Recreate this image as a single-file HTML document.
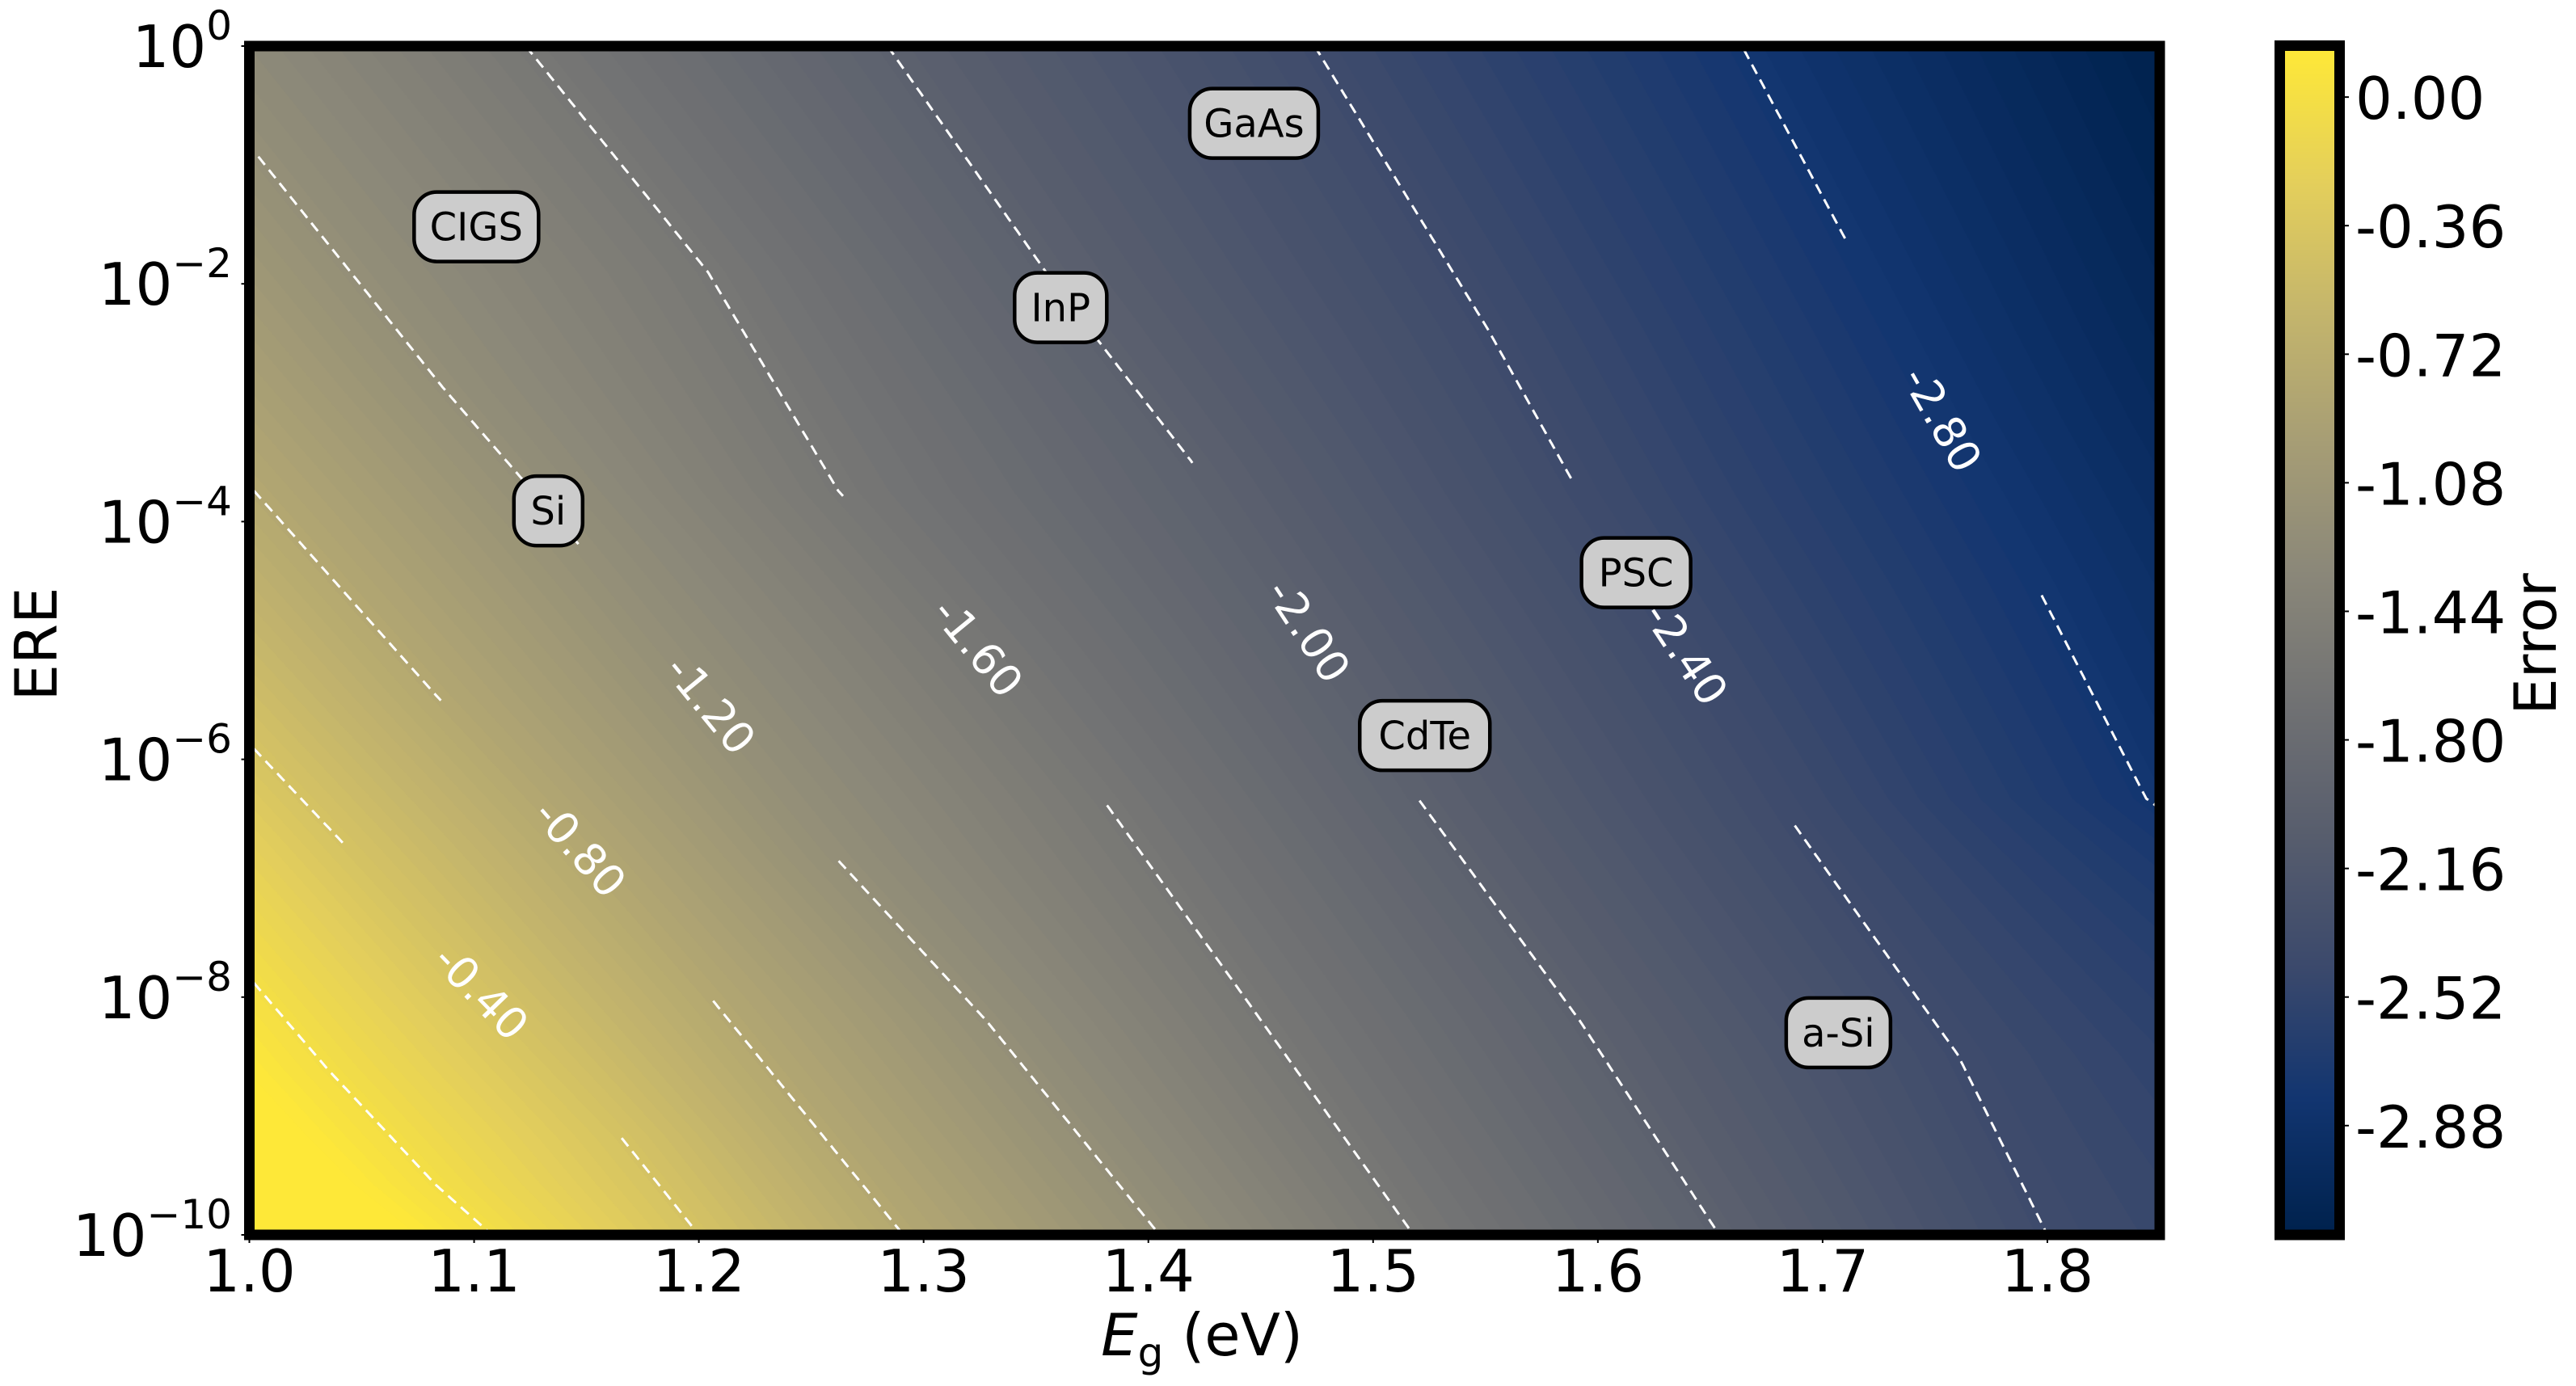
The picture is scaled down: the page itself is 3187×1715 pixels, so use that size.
<!DOCTYPE html>
<html><head><meta charset="utf-8">
<style>
html,body{margin:0;padding:0;background:#fff;}
#wrap{position:relative;width:3187px;height:1715px;overflow:hidden;font-family:"DejaVu Sans","Liberation Sans",sans-serif;}
canvas{position:absolute;}
svg{position:absolute;left:0;top:0;}
</style></head>
<body>
<div id="wrap">
<canvas id="field"></canvas>
<canvas id="cbar"></canvas>
<svg id="svg" width="3187" height="1715" xmlns="http://www.w3.org/2000/svg"></svg>
</div>
<script>
// ---- data ----
const levels = [0.0, -0.4, -0.8, -1.2, -1.6, -2.0, -2.4, -2.8];
const levelNames = ["", "-0.40", "-0.80", "-1.20", "-1.60", "-2.00", "-2.40", "-2.80"];
// contour polylines: [Eg (eV), log10(ERE)]
const contour0 = [[1.002,-7.88],[1.035,-8.61],[1.083,-9.58],[1.108,-10]];
const contour040 = [[1.002,-5.91],[1.039,-6.65],[1.103,-7.96],[1.165,-9.17],[1.2,-10]];
const contour080 = [[1.002,-3.74],[1.083,-5.46],[1.147,-6.75],[1.205,-8.0],[1.291,-10]];
const contour120 = [[1.004,-0.93],[1.086,-2.87],[1.146,-4.18],[1.205,-5.54],[1.260,-6.81],[1.328,-8.2],[1.405,-10]];
const contour160 = [[1.123,0],[1.204,-1.9],[1.262,-3.74],[1.324,-5.06],[1.381,-6.37],[1.445,-8.06],[1.518,-10]];
const contour200 = [[1.284,0],[1.357,-1.97],[1.419,-3.49],[1.471,-4.92],[1.520,-6.33],[1.592,-8.2],[1.654,-10]];
const contour240 = [[1.474,0],[1.551,-2.38],[1.592,-3.77],[1.639,-5.11],[1.687,-6.54],[1.760,-8.48],[1.800,-10]];
const contour280 = [[1.665,-0.03],[1.712,-1.69],[1.753,-3.14],[1.795,-4.53],[1.844,-6.33],[1.86,-6.55]];
const contours = [contour0, contour040, contour080, contour120, contour160, contour200, contour240, contour280];
// label anchor points on each contour (null = no label)
const labelPts = [null,[1.103,-7.96],[1.147,-6.75],[1.205,-5.54],[1.324,-5.06],[1.471,-4.92],[1.639,-5.11],[1.753,-3.14]];
const xTicks = [1.0,1.1,1.2,1.3,1.4,1.5,1.6,1.7,1.8];
const xTickLabels = ["1.0","1.1","1.2","1.3","1.4","1.5","1.6","1.7","1.8"];
const yTicks = [0,-2,-4,-6,-8,-10];
const yTickExp = ["0","\u22122","\u22124","\u22126","\u22128","\u221210"];
const cbTicks = [0.0,-0.36,-0.72,-1.08,-1.44,-1.80,-2.16,-2.52,-2.88];
const cbTickLabels = ["0.00","-0.36","-0.72","-1.08","-1.44","-1.80","-2.16","-2.52","-2.88"];
const materials = ["GaAs","CIGS","InP","Si","PSC","CdTe","a-Si"];
const materialEg = [1.447,1.101,1.361,1.133,1.617,1.523,1.707];
const materialLogERE = [-0.65,-1.52,-2.20,-3.91,-4.43,-5.80,-8.30];
const materialW = [159,154,114,85,135,161,129];
const vmin = -3.186, vmax = 0.144;

// ---- axes ----
const AX0=308.5, AX1=2672, AY0=57, AY1=1528;
const EGMIN=1.0, EGMAX=1.85, LMIN=-10, LMAX=0;
function X(e){return AX0+(e-EGMIN)/(EGMAX-EGMIN)*(AX1-AX0);}
function Y(l){return AY0+(LMAX-l)/(LMAX-LMIN)*(AY1-AY0);}
function Xinv(px){return EGMIN+(px-AX0)/(AX1-AX0)*(EGMAX-EGMIN);}
function Yinv(py){return LMAX-(py-AY0)/(AY1-AY0)*(LMAX-LMIN);}
const CB0=56.5, CB1=1528;
function CY(v){return CB1-(v-vmin)/(vmax-vmin)*(CB1-CB0);}

const cmapHex=['#00224e','#123570','#3b496c','#575d6d','#707173','#8a8779','#a69d75','#c4b56c','#e4cf5b','#fee838'];
const cmap=cmapHex.map(h=>[parseInt(h.slice(1,3),16),parseInt(h.slice(3,5),16),parseInt(h.slice(5,7),16)]);
function color(t){t=Math.max(0,Math.min(1,t));const f=t*(cmap.length-1);const i=Math.min(cmap.length-2,Math.floor(f));const r=f-i;
 return [0,1,2].map(k=>cmap[i][k]+(cmap[i+1][k]-cmap[i][k])*r);}

function contourX(poly,l){
  const pts=poly.slice().sort((a,b)=>b[1]-a[1]);
  let i=0;
  if(l>=pts[0][1]) i=0; else if(l<=pts[pts.length-1][1]) i=pts.length-2;
  else {for(i=0;i<pts.length-1;i++){if(l<=pts[i][1]&&l>=pts[i+1][1])break;}}
  const a=pts[i],b=pts[i+1];const t=(l-a[1])/(b[1]-a[1]);
  return X(a[0]+(b[0]-a[0])*t);
}

// ---- heatmap ----
(function(){
  const c=document.getElementById('field');
  const L=315,T=63,W=2666-315,H=1522-63;
  c.width=W;c.height=H;c.style.left=L+'px';c.style.top=T+'px';
  const ctx=c.getContext('2d');const img=ctx.createImageData(W,H);const d=img.data;
  for(let r=0;r<H;r++){
    const l=Yinv(T+r+0.5);
    const xs=contours.map(p=>contourX(p,l));
    for(let q=0;q<W;q++){
      const px=L+q+0.5;let v;
      const n=xs.length;
      if(px<=xs[0]) v=levels[0]+(px-xs[0])*(levels[1]-levels[0])/(xs[1]-xs[0]);
      else if(px>=xs[n-1]) v=levels[n-1]+(px-xs[n-1])*(levels[n-1]-levels[n-2])/(xs[n-1]-xs[n-2]);
      else{let k=0;while(k<n-2&&px>xs[k+1])k++;v=levels[k]+(px-xs[k])*(levels[k+1]-levels[k])/(xs[k+1]-xs[k]);}
      const step=(vmax-vmin)/100;v=Math.floor((v-vmin)/step)*step+vmin+step/2;
      const col=color((v-vmin)/(vmax-vmin));const o=(r*W+q)*4;
      d[o]=col[0];d[o+1]=col[1];d[o+2]=col[2];d[o+3]=255;
    }
  }
  ctx.putImageData(img,0,0);
})();
// ---- colorbar gradient ----
(function(){
  const c=document.getElementById('cbar');
  const L=2827,T=63,W=2888-2827,H=1522-63;
  c.width=W;c.height=H;c.style.left=L+'px';c.style.top=T+'px';
  const ctx=c.getContext('2d');
  for(let r=0;r<H;r++){const v=vmax-(r+0.5)/H*(vmax-vmin);const col=color((v-vmin)/(vmax-vmin));
    ctx.fillStyle='rgb('+col.map(Math.round).join(',')+')';ctx.fillRect(0,r,W,1);}
})();

// ---- SVG overlay ----
const NS='http://www.w3.org/2000/svg';
const svg=document.getElementById('svg');
function el(tag,attrs,parent){const e=document.createElementNS(NS,tag);for(const k in attrs)e.setAttribute(k,attrs[k]);(parent||svg).appendChild(e);return e;}

const clip=el('clipPath',{id:'plotclip'});
el('rect',{x:315,y:63,width:2351,height:1459},clip);
const cg=el('g',{'clip-path':'url(#plotclip)'});



contours.forEach((poly,i)=>{
  const pts=poly.map(p=>[X(p[0]),Y(p[1])]);
  const lp=labelPts[i]?[X(labelPts[i][0]),Y(labelPts[i][1])]:null;
  const R=250;
  let seg=[];const segs=[];
  for(let s=0;s<pts.length-1;s++){
    const a=pts[s],b=pts[s+1];const len=Math.hypot(b[0]-a[0],b[1]-a[1]);const n=Math.max(1,Math.ceil(len/3));
    for(let j=0;j<=n;j++){const x=a[0]+(b[0]-a[0])*j/n,y=a[1]+(b[1]-a[1])*j/n;
      if(lp&&Math.hypot(x-lp[0],y-lp[1])<R){if(seg.length>1)segs.push(seg);seg=[];}
      else seg.push([x,y]);}
  }
  if(seg.length>1)segs.push(seg);
  segs.forEach(sg=>{
    const p=el('path',{d:'M'+sg.map(q=>q[0].toFixed(1)+','+q[1].toFixed(1)).join('L'),fill:'none',stroke:'#fff','stroke-width':3,'stroke-dasharray':'13 8'},cg);
    
    
  });
  if(lp){
    let best=0,bd=1e9;for(let s=0;s<pts.length-1;s++){const mx=(pts[s][0]+pts[s+1][0])/2,my=(pts[s][1]+pts[s+1][1])/2;const dd=Math.hypot(mx-lp[0],my-lp[1]);if(dd<bd){bd=dd;best=s;}}
    const ang=Math.atan2(pts[best+1][1]-pts[best][1],pts[best+1][0]-pts[best][0])*180/Math.PI;
    const t=el('text',{x:lp[0],y:lp[1],fill:'#fff','font-size':54,'text-anchor':'middle','dominant-baseline':'central',transform:'rotate('+ang.toFixed(1)+' '+lp[0]+' '+lp[1]+')'});
    t.textContent=levelNames[i];
    
    
  }
});

// material boxes
materials.forEach((m,i)=>{
  const cx=X(materialEg[i]),cy=Y(materialLogERE[i]);const w=materialW[i],h=86;
  const g=el('g',{});
  
  
  el('rect',{x:cx-w/2,y:cy-h/2,width:w,height:h,rx:28,ry:28,fill:'#cccccc',stroke:'#000','stroke-width':4.5},g);
  const t=el('text',{x:cx,y:cy+17,'font-size':48,'text-anchor':'middle',fill:'#000'},g);
  t.textContent=m;
});

// axes frame
const frame=el('rect',{x:AX0,y:AY0,width:AX1-AX0,height:AY1-AY0,fill:'none',stroke:'#000','stroke-width':13});



xTicks.forEach((v,i)=>{
  const x=X(v);
  el('line',{x1:x,y1:AY1+6,x2:x,y2:AY1+10,stroke:'#000','stroke-width':2});
  const t=el('text',{x:x,y:1598,'font-size':72,'text-anchor':'middle',fill:'#000'});
  t.textContent=xTickLabels[i];
  
  
});
yTicks.forEach((v,i)=>{
  const y=Y(v);
  el('line',{x1:AX0-10,y1:y,x2:AX0-6,y2:y,stroke:'#000','stroke-width':2});
  const t=el('text',{x:287,y:y+26,'font-size':72,'text-anchor':'end',fill:'#000'});
  const a=document.createElementNS(NS,'tspan');a.textContent='10';t.appendChild(a);
  const b=document.createElementNS(NS,'tspan');b.setAttribute('dy','-34');b.setAttribute('font-size','50');b.textContent=yTickExp[i];t.appendChild(b);
  
  
});
const xt=el('text',{x:1487,y:1677,'font-size':72,'text-anchor':'middle',fill:'#000'});


xt.innerHTML='<tspan font-style="italic">E</tspan><tspan font-size="50" dy="14">g</tspan><tspan dy="-14"> (eV)</tspan>';
const yt=el('text',{x:0,y:0,'font-size':72,'text-anchor':'middle',fill:'#000',transform:'translate(70,797) rotate(-90)'});
yt.textContent='ERE';



const cf=el('rect',{x:2820.5,y:CB0,width:74,height:CB1-CB0,fill:'none',stroke:'#000','stroke-width':13});


cbTicks.forEach((v,i)=>{
  const y=CY(v);
  el('line',{x1:2901,y1:y,x2:2906,y2:y,stroke:'#000','stroke-width':2});
  const t=el('text',{x:2914,y:y+27,'font-size':72,fill:'#000'});
  t.textContent=cbTickLabels[i];
  
  
});
const ct=el('text',{x:0,y:0,'font-size':72,'text-anchor':'middle',fill:'#000',transform:'translate(3162,797) rotate(-90)'});
ct.textContent='Error';


</script>
</body></html>
